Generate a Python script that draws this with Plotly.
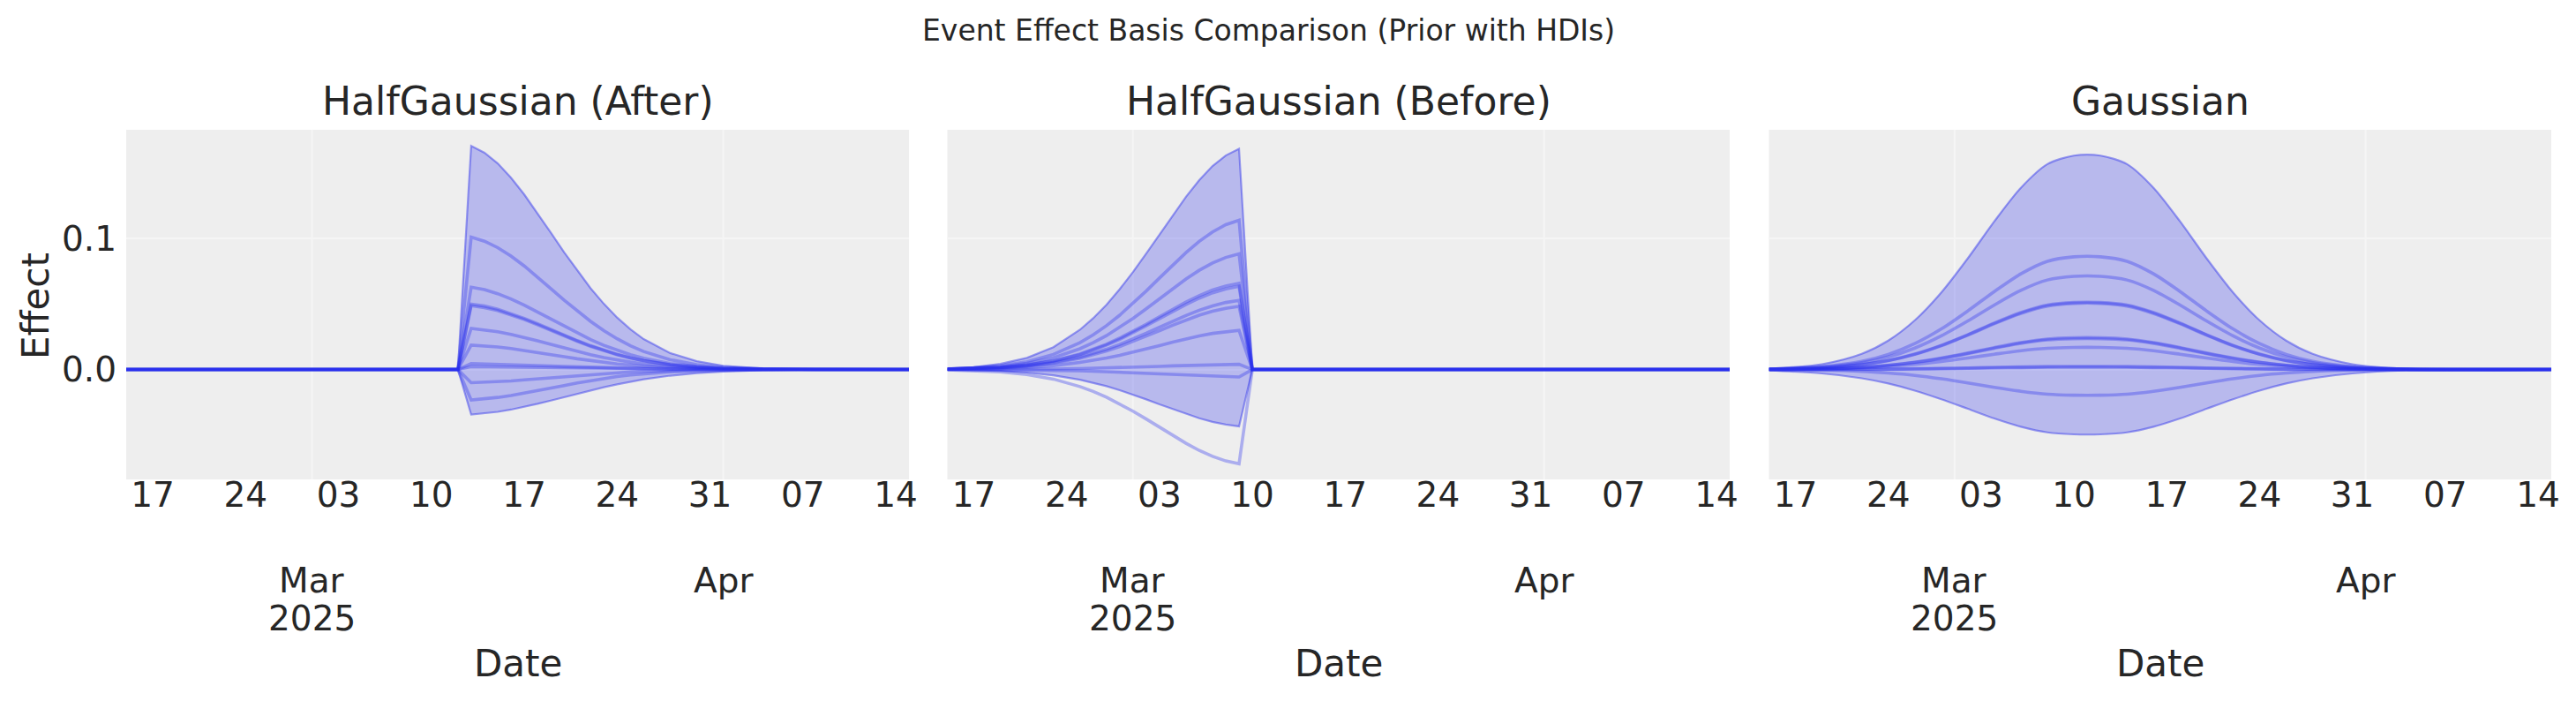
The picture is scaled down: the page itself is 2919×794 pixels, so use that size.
import plotly.graph_objects as go
from plotly.subplots import make_subplots

# ---------------- data ----------------
panel_titles = ["HalfGaussian (After)", "HalfGaussian (Before)", "Gaussian"]

tick_dates = ["2025-02-17", "2025-02-24", "2025-03-03", "2025-03-10", "2025-03-17",
              "2025-03-24", "2025-03-31", "2025-04-07", "2025-04-14"]
tick_labels = ["17", "24", "03", "10", "17", "24", "31", "07", "14"]
month_dates = ["2025-03-01", "2025-04-01"]
month_labels = ["Mar", "Apr"]
year_label = "2025"
x_range = ["2025-02-15", "2025-04-15"]
y_ticks = [0.0, 0.1]
y_tick_labels = ["0.0", "0.1"]

# Panel 1: HalfGaussian (After)
after_dates = ["2025-02-15", "2025-03-12", "2025-03-13", "2025-03-14", "2025-03-15", "2025-03-16",
               "2025-03-17", "2025-03-18", "2025-03-19", "2025-03-20", "2025-03-21", "2025-03-22",
               "2025-03-23", "2025-03-24", "2025-03-25", "2025-03-26", "2025-03-28", "2025-03-30",
               "2025-04-01", "2025-04-04", "2025-04-08", "2025-04-15"]
after_hdi_upper = [0, 0, 0.1708, 0.1656, 0.1574, 0.1465, 0.1337, 0.1195, 0.1046, 0.0897, 0.0755, 0.0621,
                   0.0502, 0.0397, 0.0308, 0.0233, 0.0126, 0.0064, 0.0029, 0.0008, 0.0001, 0]
after_hdi_lower = [0, 0, -0.0344, -0.0336, -0.0323, -0.0306, -0.0285, -0.0262, -0.0237, -0.0211, -0.0184,
                   -0.0159, -0.0135, -0.0113, -0.0093, -0.0075, -0.0047, -0.0028, -0.0015, -0.0006, -0.0001, 0]
after_samples = [
    [0, 0, 0.1011, 0.0980, 0.0931, 0.0867, 0.0791, 0.0708, 0.0619, 0.0531, 0.0447, 0.0368, 0.0297, 0.0235, 0.0182, 0.0138, 0.0075, 0.0038, 0.0017, 0.0005, 0.0001, 0],
    [0, 0, 0.0629, 0.0610, 0.0579, 0.0539, 0.0492, 0.0440, 0.0385, 0.0330, 0.0278, 0.0229, 0.0185, 0.0146, 0.0113, 0.0086, 0.0046, 0.0023, 0.0011, 0.0003, 0.0, 0],
    [0, 0, 0.0500, 0.0485, 0.0461, 0.0429, 0.0391, 0.0350, 0.0306, 0.0263, 0.0221, 0.0182, 0.0147, 0.0116, 0.0090, 0.0068, 0.0037, 0.0019, 0.0009, 0.0002, 0.0, 0],
    [0, 0, 0.0488, 0.0473, 0.0450, 0.0419, 0.0382, 0.0342, 0.0299, 0.0256, 0.0216, 0.0177, 0.0143, 0.0113, 0.0088, 0.0067, 0.0036, 0.0018, 0.0008, 0.0002, 0.0, 0],
    [0, 0, 0.0314, 0.0304, 0.0289, 0.0269, 0.0246, 0.0220, 0.0192, 0.0165, 0.0139, 0.0114, 0.0092, 0.0073, 0.0057, 0.0043, 0.0023, 0.0012, 0.0005, 0.0001, 0.0, 0],
    [0, 0, 0.0186, 0.0180, 0.0172, 0.0160, 0.0146, 0.0130, 0.0114, 0.0098, 0.0082, 0.0068, 0.0055, 0.0043, 0.0034, 0.0025, 0.0014, 0.0007, 0.0003, 0.0001, 0.0, 0],
    [0, 0, 0.0045, 0.0043, 0.0041, 0.0038, 0.0035, 0.0031, 0.0027, 0.0023, 0.0020, 0.0016, 0.0013, 0.0010, 0.0008, 0.0006, 0.0003, 0.0002, 0.0001, 0.0, 0.0, 0],
    [0, 0, 0.0022, 0.0021, 0.0020, 0.0019, 0.0017, 0.0015, 0.0013, 0.0011, 0.0010, 0.0008, 0.0006, 0.0005, 0.0004, 0.0003, 0.0002, 0.0001, 0.0, 0.0, 0.0, 0],
    [0, 0, -0.0101, -0.0098, -0.0093, -0.0087, -0.0079, -0.0071, -0.0062, -0.0053, -0.0045, -0.0037, -0.0030, -0.0023, -0.0018, -0.0014, -0.0007, -0.0004, -0.0002, 0.0, 0.0, 0],
    [0, 0, -0.0232, -0.0225, -0.0213, -0.0199, -0.0181, -0.0162, -0.0142, -0.0122, -0.0102, -0.0084, -0.0068, -0.0054, -0.0042, -0.0032, -0.0017, -0.0009, -0.0004, -0.0001, 0.0, 0],
]

# Panel 2: HalfGaussian (Before)
before_dates = ["2025-02-15", "2025-02-17", "2025-02-19", "2025-02-21", "2025-02-23", "2025-02-25",
                "2025-02-26", "2025-02-27", "2025-02-28", "2025-03-01", "2025-03-02", "2025-03-03",
                "2025-03-04", "2025-03-05", "2025-03-06", "2025-03-07", "2025-03-08", "2025-03-09",
                "2025-03-10", "2025-04-15"]
before_hdi_upper = [0.0008, 0.0019, 0.0043, 0.0089, 0.0171, 0.0304, 0.0392, 0.0495, 0.0614, 0.0745,
                    0.0886, 0.1033, 0.1180, 0.1319, 0.1447, 0.1554, 0.1635, 0.1686, 0, 0]
before_hdi_lower = [-0.0002, -0.0005, -0.0011, -0.0023, -0.0044, -0.0078, -0.0101, -0.0127, -0.0158,
                    -0.0192, -0.0228, -0.0266, -0.0303, -0.0339, -0.0372, -0.0400, -0.0420, -0.0434, 0, 0]
before_samples = [
    [0.0005, 0.0013, 0.0029, 0.0060, 0.0116, 0.0205, 0.0265, 0.0335, 0.0415, 0.0504, 0.0600, 0.0699, 0.0798, 0.0893, 0.0979, 0.1051, 0.1106, 0.1140, 0, 0],
    [0.0004, 0.0010, 0.0022, 0.0047, 0.0090, 0.0159, 0.0205, 0.0259, 0.0321, 0.0390, 0.0464, 0.0541, 0.0618, 0.0691, 0.0758, 0.0814, 0.0856, 0.0883, 0, 0],
    [0.0003, 0.0007, 0.0017, 0.0035, 0.0067, 0.0119, 0.0153, 0.0193, 0.0240, 0.0291, 0.0346, 0.0403, 0.0461, 0.0515, 0.0565, 0.0607, 0.0638, 0.0658, 0, 0],
    [0.0003, 0.0007, 0.0016, 0.0034, 0.0065, 0.0114, 0.0148, 0.0187, 0.0231, 0.0281, 0.0334, 0.0389, 0.0445, 0.0497, 0.0545, 0.0586, 0.0616, 0.0636, 0, 0],
    [0.0002, 0.0006, 0.0013, 0.0028, 0.0054, 0.0095, 0.0123, 0.0155, 0.0192, 0.0233, 0.0277, 0.0323, 0.0369, 0.0413, 0.0453, 0.0486, 0.0512, 0.0528, 0, 0],
    [0.0002, 0.0005, 0.0012, 0.0026, 0.0049, 0.0087, 0.0112, 0.0142, 0.0176, 0.0214, 0.0254, 0.0296, 0.0338, 0.0378, 0.0415, 0.0445, 0.0468, 0.0483, 0, 0],
    [0.0001, 0.0003, 0.0008, 0.0016, 0.0030, 0.0054, 0.0069, 0.0088, 0.0109, 0.0132, 0.0157, 0.0183, 0.0209, 0.0234, 0.0257, 0.0276, 0.0290, 0.0299, 0, 0],
    [0.0, 0.0, 0.0001, 0.0002, 0.0004, 0.0007, 0.0009, 0.0012, 0.0014, 0.0018, 0.0021, 0.0024, 0.0028, 0.0031, 0.0034, 0.0036, 0.0038, 0.0040, 0, 0],
    [0.0, -0.0001, -0.0001, -0.0003, -0.0006, -0.0010, -0.0013, -0.0017, -0.0021, -0.0025, -0.0030, -0.0035, -0.0040, -0.0045, -0.0049, -0.0053, -0.0056, -0.0057, 0, 0],
    [-0.0003, -0.0008, -0.0018, -0.0038, -0.0073, -0.0130, -0.0167, -0.0211, -0.0262, -0.0318, -0.0378, -0.0441, -0.0504, -0.0563, -0.0618, -0.0663, -0.0698, -0.0720, 0, 0],
]

# Panel 3: Gaussian
gauss_dates = ["2025-02-15", "2025-02-19", "2025-02-22", "2025-02-24", "2025-02-26", "2025-02-28",
               "2025-03-02", "2025-03-04", "2025-03-06", "2025-03-08", "2025-03-10", "2025-03-12",
               "2025-03-14", "2025-03-16", "2025-03-18", "2025-03-20", "2025-03-22", "2025-03-24",
               "2025-03-26", "2025-03-28", "2025-03-31", "2025-04-04", "2025-04-15"]
gauss_hdi_upper = [0.0007, 0.0041, 0.0120, 0.0221, 0.0376, 0.0589, 0.0850, 0.1132, 0.1388, 0.1569, 0.1634,
                   0.1634, 0.1569, 0.1388, 0.1132, 0.0850, 0.0589, 0.0376, 0.0221, 0.0120, 0.0041, 0.0007, 0]
gauss_hdi_lower = [-0.0008, -0.0030, -0.0067, -0.0107, -0.0161, -0.0227, -0.0300, -0.0374, -0.0437, -0.0480,
                   -0.0495, -0.0495, -0.0480, -0.0437, -0.0374, -0.0300, -0.0227, -0.0161, -0.0107, -0.0067,
                   -0.0030, -0.0008, 0]
gauss_samples = [
    [0.0004, 0.0022, 0.0063, 0.0116, 0.0198, 0.0310, 0.0448, 0.0596, 0.0731, 0.0827, 0.0861, 0.0861, 0.0827, 0.0731, 0.0596, 0.0448, 0.0310, 0.0198, 0.0116, 0.0063, 0.0022, 0.0004, 0],
    [0.0003, 0.0018, 0.0052, 0.0096, 0.0164, 0.0257, 0.0371, 0.0493, 0.0605, 0.0684, 0.0712, 0.0712, 0.0684, 0.0605, 0.0493, 0.0371, 0.0257, 0.0164, 0.0096, 0.0052, 0.0018, 0.0003, 0],
    [0.0002, 0.0013, 0.0038, 0.0069, 0.0118, 0.0185, 0.0266, 0.0355, 0.0435, 0.0492, 0.0512, 0.0512, 0.0492, 0.0435, 0.0355, 0.0266, 0.0185, 0.0118, 0.0069, 0.0038, 0.0013, 0.0002, 0],
    [0.0002, 0.0013, 0.0037, 0.0068, 0.0116, 0.0182, 0.0263, 0.0350, 0.0429, 0.0485, 0.0505, 0.0505, 0.0485, 0.0429, 0.0350, 0.0263, 0.0182, 0.0116, 0.0068, 0.0037, 0.0013, 0.0002, 0],
    [0.0001, 0.0006, 0.0018, 0.0033, 0.0056, 0.0088, 0.0126, 0.0168, 0.0206, 0.0233, 0.0243, 0.0243, 0.0233, 0.0206, 0.0168, 0.0126, 0.0088, 0.0056, 0.0033, 0.0018, 0.0006, 0.0001, 0],
    [0.0001, 0.0006, 0.0017, 0.0032, 0.0054, 0.0085, 0.0122, 0.0163, 0.0200, 0.0226, 0.0235, 0.0235, 0.0226, 0.0200, 0.0163, 0.0122, 0.0085, 0.0054, 0.0032, 0.0017, 0.0006, 0.0001, 0],
    [0.0001, 0.0004, 0.0012, 0.0023, 0.0039, 0.0061, 0.0088, 0.0117, 0.0144, 0.0162, 0.0169, 0.0169, 0.0162, 0.0144, 0.0117, 0.0088, 0.0061, 0.0039, 0.0023, 0.0012, 0.0004, 0.0001, 0],
    [0.0, 0.0001, 0.0002, 0.0003, 0.0006, 0.0009, 0.0012, 0.0017, 0.0020, 0.0023, 0.0024, 0.0024, 0.0023, 0.0020, 0.0017, 0.0012, 0.0009, 0.0006, 0.0003, 0.0002, 0.0001, 0.0, 0],
    [0.0, 0.0, 0.0001, 0.0002, 0.0004, 0.0006, 0.0009, 0.0012, 0.0015, 0.0017, 0.0018, 0.0018, 0.0017, 0.0015, 0.0012, 0.0009, 0.0006, 0.0004, 0.0002, 0.0001, 0.0, 0.0, 0],
    [-0.0001, -0.0005, -0.0014, -0.0027, -0.0045, -0.0071, -0.0102, -0.0136, -0.0166, -0.0188, -0.0196, -0.0196, -0.0188, -0.0166, -0.0136, -0.0102, -0.0071, -0.0045, -0.0027, -0.0014, -0.0005, -0.0001, 0],
]

# ---------------- style ----------------
BLUE = "42,46,236"
TXT = "#262626"
FONT = "DejaVu Sans"
GRID = "#f5f5f5"
W, H = 2919, 794
ML, MR, MT, MB = 143, 28, 147, 251
PW = W - ML - MR
PH = H - MT - MB
domains = [[0.0, 0.3228], [0.3386, 0.6612], [0.6774, 1.0]]


def py(pix):
    """pixel row -> paper y"""
    return (H - MB - pix) / PH


def px(pix):
    return (pix - ML) / PW


fig = make_subplots(rows=1, cols=3, shared_yaxes=True)

panels = [
    (after_dates, after_hdi_upper, after_hdi_lower, after_samples, "linear"),
    (before_dates, before_hdi_upper, before_hdi_lower, before_samples, "linear"),
    (gauss_dates, gauss_hdi_upper, gauss_hdi_lower, gauss_samples, "spline"),
]

for i, (dates, up, lo, samples, shape) in enumerate(panels, start=1):
    fig.add_trace(go.Scatter(x=dates, y=up, mode="lines",
                             line=dict(color=f"rgba({BLUE},0.45)", width=2.2, shape=shape, smoothing=0.8),
                             showlegend=False, hoverinfo="skip"), row=1, col=i)
    fig.add_trace(go.Scatter(x=dates, y=lo, mode="lines", fill="tonexty",
                             fillcolor=f"rgba({BLUE},0.27)",
                             line=dict(color=f"rgba({BLUE},0.45)", width=2.2, shape=shape, smoothing=0.8),
                             showlegend=False, hoverinfo="skip"), row=1, col=i)
    for s in samples:
        fig.add_trace(go.Scatter(x=dates, y=s, mode="lines",
                                 line=dict(color=f"rgba({BLUE},0.34)", width=3.6, shape=shape, smoothing=0.8),
                                 showlegend=False, hoverinfo="skip"), row=1, col=i)

for i in range(3):
    fig.update_xaxes(domain=domains[i], range=x_range, type="date",
                     tickmode="array", tickvals=tick_dates, ticktext=tick_labels,
                     showgrid=False, zeroline=False, showline=False, ticks="",
                     ticklabelstandoff=-9,
                     tickfont=dict(size=39, color=TXT, family=FONT),
                     row=1, col=i + 1)
    fig.update_yaxes(range=[-0.0839, 0.1831], tickmode="array", tickvals=y_ticks,
                     ticktext=y_tick_labels, showgrid=True, gridcolor=GRID, gridwidth=2,
                     zeroline=False, showline=False, ticks="",
                     tickfont=dict(size=39, color=TXT, family=FONT), ticklabelstandoff=10,
                     row=1, col=i + 1)
    xref = "x" if i == 0 else f"x{i + 1}"
    yref = "y domain" if i == 0 else f"y{i + 1} domain"
    for md in month_dates:
        fig.add_shape(type="line", xref=xref, yref=yref, x0=md, x1=md, y0=0, y1=1,
                      line=dict(color=GRID, width=2), layer="below")
    for md, ml in zip(month_dates, month_labels):
        fig.add_annotation(text=ml, xref=xref, yref="paper", x=md, y=py(657),
                           xanchor="center", yanchor="middle", showarrow=False,
                           font=dict(size=39, color=TXT, family=FONT))
    fig.add_annotation(text=year_label, xref=xref, yref="paper", x=month_dates[0], y=py(700),
                       xanchor="center", yanchor="middle", showarrow=False,
                       font=dict(size=39, color=TXT, family=FONT))
    cx = (domains[i][0] + domains[i][1]) / 2
    fig.add_annotation(text="Date", xref="paper", yref="paper", x=cx, y=py(751),
                       xanchor="center", yanchor="middle", showarrow=False,
                       font=dict(size=42, color=TXT, family=FONT))
    fig.add_annotation(text=panel_titles[i], xref="paper", yref="paper", x=cx, y=py(115),
                       xanchor="center", yanchor="middle", showarrow=False,
                       font=dict(size=44, color=TXT, family=FONT))

fig.add_annotation(text="Effect", xref="paper", yref="paper", x=px(40), y=py(347),
                   xanchor="center", yanchor="middle", textangle=-90, showarrow=False,
                   font=dict(size=42, color=TXT, family=FONT))
fig.add_annotation(text="Event Effect Basis Comparison (Prior with HDIs)", xref="paper", yref="paper",
                   x=px(1437), y=py(34), xanchor="center", yanchor="middle", showarrow=False,
                   font=dict(size=33, color=TXT, family=FONT))

fig.update_layout(width=W, height=H, margin=dict(l=ML, r=MR, t=MT, b=MB, pad=0),
                  paper_bgcolor="white", plot_bgcolor="#eeeeee", showlegend=False,
                  font=dict(family=FONT, color=TXT))

fig.write_html("out.html", config={"displayModeBar": False},
               post_script="document.body.style.margin='0';document.body.style.overflow='hidden';")
